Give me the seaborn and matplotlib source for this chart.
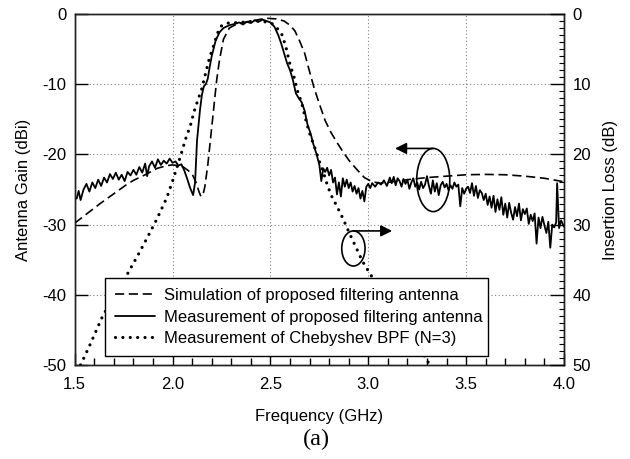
import numpy as np
import pandas as pd
import matplotlib
matplotlib.use("Agg")
import matplotlib.pyplot as plt
from matplotlib.patches import Ellipse
from matplotlib.ticker import MultipleLocator, FormatStrFormatter
import seaborn as sns

# Simulated gain of the filtering antenna (GHz, dBi)
sim_freq = [1.50, 1.56, 1.63, 1.70, 1.76, 1.80, 1.86, 1.92, 1.97, 2.00, 2.03, 2.055,
            2.08, 2.10, 2.12, 2.135, 2.145, 2.155, 2.165, 2.18, 2.195, 2.21, 2.225,
            2.24, 2.26, 2.29, 2.33, 2.40, 2.48, 2.53, 2.57, 2.60, 2.625, 2.65, 2.675,
            2.70, 2.725, 2.75, 2.78, 2.81, 2.84, 2.87, 2.90, 2.94, 2.98, 3.02, 3.06,
            3.10, 3.20, 3.30, 3.40, 3.50, 3.60, 3.70, 3.80, 3.90, 4.00]
sim_gain = [-29.8, -28.5, -27.0, -25.6, -24.4, -23.7, -22.9, -22.0, -21.6, -21.5, -21.6, -21.8,
            -22.3, -22.8, -24.0, -25.3, -26.0, -25.8, -24.6, -21.5, -17.5, -13.5, -9.5,
            -6.5, -3.6, -2.0, -1.4, -1.0, -0.6, -0.7, -1.0, -1.6, -2.4, -3.9, -5.6,
            -8.2, -10.7, -12.8, -15.2, -16.9, -18.3, -19.6, -20.8, -22.1, -23.3, -23.9, -24.1,
            -24.0, -23.6, -23.3, -23.1, -22.9, -22.85, -22.9, -23.1, -23.4, -23.9]

# Measured gain of the filtering antenna (GHz, dBi)
meas_freq = [1.500, 1.510, 1.520, 1.530, 1.545, 1.560, 1.575, 1.590, 1.605, 1.620,
             1.635, 1.650, 1.665, 1.680, 1.695, 1.710, 1.725, 1.740, 1.755, 1.770,
             1.785, 1.800, 1.815, 1.830, 1.845, 1.860, 1.870, 1.880, 1.895, 1.910,
             1.925, 1.940, 1.955, 1.970, 1.985, 2.000, 2.015, 2.030, 2.045, 2.060,
             2.075, 2.090, 2.105, 2.115, 2.125, 2.140, 2.150, 2.160, 2.170, 2.180,
             2.190, 2.200, 2.220, 2.240, 2.260, 2.290, 2.320, 2.340, 2.360, 2.380,
             2.400, 2.420, 2.440, 2.460, 2.480, 2.500, 2.520, 2.540, 2.555, 2.570,
             2.585, 2.600, 2.615, 2.630, 2.645, 2.660, 2.675, 2.690, 2.705, 2.720,
             2.735, 2.750, 2.760, 2.770, 2.780, 2.790, 2.800, 2.810, 2.820, 2.830,
             2.840, 2.850, 2.860, 2.870, 2.880, 2.890, 2.900, 2.910, 2.920, 2.930,
             2.940, 2.950, 2.960, 2.970, 2.980, 2.990, 3.000, 3.010, 3.020, 3.035,
             3.050, 3.065, 3.080, 3.095, 3.110, 3.120, 3.130, 3.140, 3.150, 3.160,
             3.170, 3.180, 3.190, 3.200, 3.210, 3.220, 3.230, 3.240, 3.250, 3.260,
             3.270, 3.280, 3.290, 3.300, 3.310, 3.320, 3.330, 3.340, 3.350, 3.360,
             3.370, 3.380, 3.390, 3.400, 3.410, 3.420, 3.430, 3.440, 3.450, 3.460,
             3.470, 3.480, 3.490, 3.500, 3.510, 3.520, 3.530, 3.540, 3.550, 3.560,
             3.570, 3.580, 3.590, 3.600, 3.610, 3.620, 3.630, 3.640, 3.650, 3.660,
             3.670, 3.680, 3.690, 3.700, 3.710, 3.720, 3.730, 3.740, 3.750, 3.760,
             3.770, 3.780, 3.790, 3.800, 3.810, 3.820, 3.830, 3.840, 3.850, 3.860,
             3.870, 3.880, 3.890, 3.900, 3.910, 3.920, 3.930, 3.940, 3.950, 3.960,
             3.965, 3.975, 3.985, 4.000]
meas_gain = [-26.0, -26.3, -25.2, -26.5, -25.0, -24.2, -25.3, -24.0, -24.8, -23.6,
             -24.5, -23.3, -24.0, -22.8, -23.5, -22.6, -23.6, -22.9, -23.8, -22.5,
             -23.0, -22.2, -22.9, -21.8, -22.6, -21.3, -23.1, -21.7, -21.0, -21.9,
             -20.7, -21.5, -20.9, -21.3, -20.6, -21.2, -21.0, -21.6, -21.4, -22.3,
             -23.5, -24.8, -25.8, -24.0, -18.0, -13.7, -11.5, -10.3, -10.0, -9.2,
             -7.5, -6.0, -3.8, -2.6, -2.0, -1.6, -1.4, -1.2, -1.5, -1.1,
             -1.3, -0.9, -1.1, -0.8, -1.0, -1.2, -1.8, -3.0, -4.2, -5.6,
             -7.0, -8.0, -9.4, -11.3, -12.0, -12.6, -13.8, -15.8, -17.0, -18.6,
             -19.9, -21.5, -23.8, -22.0, -22.5, -21.9, -23.0, -22.2, -24.0, -23.3,
             -25.7, -24.0, -26.0, -23.4, -24.6, -23.6, -24.8, -24.0, -25.3, -24.5,
             -25.6, -24.8, -26.3, -25.2, -26.7, -24.6, -24.2, -24.8, -24.1, -24.6,
             -24.0, -24.3, -23.7, -24.5, -23.3, -24.1, -23.2, -24.4, -23.4, -23.8,
             -24.6, -23.5, -24.2, -23.6, -24.9, -24.0, -23.4, -24.6, -24.0, -25.0,
             -23.9, -24.8, -24.3, -23.1, -24.5, -25.6, -23.7, -25.3, -24.1, -25.8,
             -24.4, -23.9, -24.7, -24.2, -25.1, -24.4, -24.9, -24.0, -24.6, -24.3,
             -27.4, -24.8, -25.6, -24.9, -24.6, -25.5, -24.1, -25.9, -24.5, -26.2,
             -25.1, -25.5, -26.5, -25.6, -27.2, -26.0, -27.6, -25.9, -28.2, -26.4,
             -27.9, -26.1, -28.6, -27.0, -29.0, -26.9, -28.3, -29.3, -27.5, -28.8,
             -27.0, -29.4, -27.8, -28.5, -27.7, -29.9, -28.6, -29.5, -28.4, -32.7,
             -29.0, -30.5, -28.9, -30.1, -31.2, -29.6, -33.3, -30.0, -30.4, -29.7,
             -24.1, -30.5, -29.4, -30.3]

# Measured insertion loss of the Chebyshev band-pass filter (GHz, dB)
bpf_freq = [1.53, 1.58, 1.64, 1.70, 1.77, 1.83, 1.87, 1.92, 1.97, 2.00, 2.04, 2.07,
            2.09, 2.11, 2.13, 2.15, 2.17, 2.19, 2.21, 2.23, 2.25, 2.28, 2.35, 2.42,
            2.47, 2.51, 2.54, 2.56, 2.58, 2.60, 2.62, 2.64, 2.66, 2.68, 2.70, 2.73,
            2.75, 2.77, 2.79, 2.81, 2.84, 2.87, 2.90, 2.94, 2.97, 3.00, 3.05, 3.10,
            3.20, 3.25, 3.29, 3.315]
bpf_loss = [50.0, 47.0, 43.2, 40.2, 37.0, 34.0, 31.9, 29.2, 26.2, 23.8, 20.3, 17.5,
            16.0, 13.9, 12.2, 10.6, 8.3, 6.1, 4.5, 2.7, 1.7, 1.3, 1.2, 1.0,
            1.1, 1.4, 2.2, 3.0, 4.8, 7.2, 8.9, 11.1, 12.7, 15.0, 17.0, 19.3,
            21.0, 22.5, 24.3, 25.8, 27.4, 29.1, 31.0, 33.4, 35.2, 36.6, 38.8, 40.6,
            44.9, 47.0, 48.9, 50.0]

legend_labels = ["Simulation of proposed filtering antenna",
                 "Measurement of proposed filtering antenna",
                 "Measurement of Chebyshev BPF (N=3)"]

sns.set_style("ticks")
plt.rcParams.update({
    "font.family": ["Liberation Sans", "DejaVu Sans"],
    "font.size": 12,
    "axes.unicode_minus": False,
    "text.color": "black",
    "axes.labelcolor": "black",
    "xtick.color": "black",
    "ytick.color": "black",
    "xtick.bottom": True,
    "ytick.left": True,
    "xtick.direction": "in",
    "ytick.direction": "in",
    "axes.axisbelow": False,
})

fig = plt.figure(figsize=(6.3, 4.59), dpi=100)
ax = fig.add_axes([0.1186, 0.2048, 0.7766, 0.7647])
ax2 = ax.twinx()

sim_df = pd.DataFrame({"f": sim_freq, "g": sim_gain})
meas_df = pd.DataFrame({"f": meas_freq, "g": meas_gain})
bpf_df = pd.DataFrame({"f": bpf_freq, "il": bpf_loss})

sns.lineplot(data=sim_df, x="f", y="g", ax=ax, color="black", lw=1.2,
             estimator=None, sort=False, zorder=3)
sns.lineplot(data=meas_df, x="f", y="g", ax=ax, color="black", lw=1.3,
             estimator=None, sort=False, zorder=3)
sns.lineplot(data=bpf_df, x="f", y="il", ax=ax2, color="black", lw=2.3,
             estimator=None, sort=False, zorder=3)

sim_line, meas_line = ax.lines[0], ax.lines[1]
bpf_line = ax2.lines[0]
sim_line.set_linestyle((0, (5.5, 2.8)))
bpf_line.set_linestyle((0, (0.01, 2.3)))
bpf_line.set_dash_capstyle("round")

ax.set_xlim(1.5, 4.0)
ax.set_ylim(-50, 0)
ax2.set_ylim(50, 0)

ax.xaxis.set_major_locator(MultipleLocator(0.5))
ax.xaxis.set_minor_locator(MultipleLocator(0.1))
ax.yaxis.set_major_locator(MultipleLocator(10))
ax2.yaxis.set_major_locator(MultipleLocator(10))
ax2.yaxis.set_minor_locator(MultipleLocator(1))
ax.xaxis.set_major_formatter(FormatStrFormatter("%.1f"))

ax.tick_params(axis="x", which="major", direction="in", length=9, width=1.0,
               pad=9, labelsize=12, bottom=True, top=False, color="black")
ax.tick_params(axis="x", which="minor", direction="in", length=5, width=1.0,
               bottom=True, top=False, color="black")
ax.tick_params(axis="y", which="major", direction="in", length=9, width=1.0,
               pad=6, labelsize=12, left=True, right=False, color="black")
ax.tick_params(axis="y", which="minor", left=False, right=False)
ax2.tick_params(axis="y", which="major", direction="in", length=10, width=1.0,
                pad=6, labelsize=12, right=True, left=False, color="black")
ax2.tick_params(axis="y", which="minor", direction="in", length=3.5, width=0.8,
                right=True, left=False, color="black")

ax.grid(True, which="major", color="#808080", lw=0.8, linestyle=(0, (1, 2.2)))
ax.grid(False, which="minor")
for a in (ax, ax2):
    for side in ("top", "bottom", "left", "right"):
        a.spines[side].set_visible(True)
        a.spines[side].set_linewidth(1.0)
        a.spines[side].set_color("#222222")

ax.set_xlabel("Frequency (GHz)", fontsize=12, labelpad=12)
ax.set_ylabel("Antenna Gain (dBi)", fontsize=12, labelpad=8)
ax2.set_ylabel("Insertion Loss (dB)", fontsize=12, labelpad=9)

# Markers pointing each curve group to its own axis
ax.add_patch(Ellipse((3.332, -23.65), 0.169, 9.0, fill=False, ec="black", lw=1.2, zorder=5))
ax.annotate("", xy=(3.137, -19.15), xytext=(3.332, -19.15),
            arrowprops=dict(arrowstyle="-|>", color="black", lw=1.2,
                            mutation_scale=17, shrinkA=0, shrinkB=0), zorder=5)
ax.add_patch(Ellipse((2.924, -33.4), 0.119, 5.0, fill=False, ec="black", lw=1.2, zorder=5))
ax.annotate("", xy=(3.122, -30.9), xytext=(2.924, -30.9),
            arrowprops=dict(arrowstyle="-|>", color="black", lw=1.2,
                            mutation_scale=17, shrinkA=0, shrinkB=0), zorder=5)

leg_ax = ax.get_legend()
if leg_ax is not None:
    leg_ax.remove()
leg = ax2.legend([sim_line, meas_line, bpf_line], legend_labels,
                 loc="lower left", bbox_to_anchor=(0.062, 0.026, 0.783, 0.224),
                 mode="expand", borderaxespad=0, fontsize=12, handlelength=2.4,
                 handletextpad=0.55, borderpad=0.6, labelspacing=0.38,
                 fancybox=False, framealpha=1, edgecolor="black")
leg.get_frame().set_linewidth(1.0)
leg.set_zorder(10)

fig.text(0.502, 0.043, "(a)", ha="center", va="center", fontsize=17.5,
         family=["Liberation Serif", "DejaVu Serif"])

fig.savefig("out.png", dpi=100)
